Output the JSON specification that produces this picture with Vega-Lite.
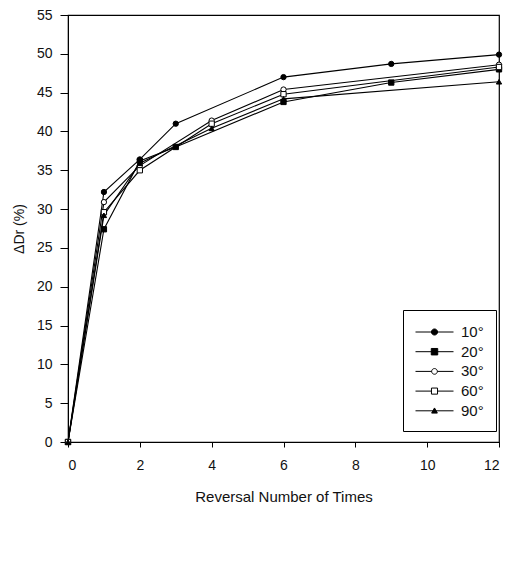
{
  "$schema": "https://vega.github.io/schema/vega-lite/v6.json",
  "width": 431,
  "height": 427,
  "autosize": {"type": "none"},
  "padding": {"left": 68, "top": 15, "right": 15, "bottom": 131},
  "background": "white",
  "config": {
    "view": {"stroke": "black", "strokeWidth": 1.2},
    "font": "Liberation Sans",
    "axis": {
      "domainColor": "black",
      "tickColor": "black",
      "labelColor": "#111",
      "titleColor": "#111",
      "labelFont": "Liberation Sans",
      "titleFont": "Liberation Sans",
      "labelFontSize": 14,
      "titleFontSize": 14,
      "titleFontWeight": "normal",
      "grid": false
    }
  },
  "data": {
    "values": [
      {"series": "10°", "x": 0, "y": 0},
      {"series": "10°", "x": 1, "y": 32.2},
      {"series": "10°", "x": 2, "y": 36.4},
      {"series": "10°", "x": 3, "y": 41.0},
      {"series": "10°", "x": 6, "y": 47.0},
      {"series": "10°", "x": 9, "y": 48.7},
      {"series": "10°", "x": 12, "y": 49.9},
      {"series": "20°", "x": 0, "y": 0},
      {"series": "20°", "x": 1, "y": 27.4},
      {"series": "20°", "x": 2, "y": 36.2},
      {"series": "20°", "x": 3, "y": 38.0},
      {"series": "20°", "x": 6, "y": 43.8},
      {"series": "20°", "x": 9, "y": 46.3},
      {"series": "20°", "x": 12, "y": 48.0},
      {"series": "30°", "x": 0, "y": 0},
      {"series": "30°", "x": 1, "y": 30.9},
      {"series": "30°", "x": 2, "y": 35.6},
      {"series": "30°", "x": 4, "y": 41.4},
      {"series": "30°", "x": 6, "y": 45.4},
      {"series": "30°", "x": 12, "y": 48.6},
      {"series": "60°", "x": 0, "y": 0},
      {"series": "60°", "x": 1, "y": 29.6},
      {"series": "60°", "x": 2, "y": 35.0},
      {"series": "60°", "x": 4, "y": 41.0},
      {"series": "60°", "x": 6, "y": 44.8},
      {"series": "60°", "x": 12, "y": 48.3},
      {"series": "90°", "x": 0, "y": 0},
      {"series": "90°", "x": 1, "y": 29.2},
      {"series": "90°", "x": 2, "y": 35.9},
      {"series": "90°", "x": 4, "y": 40.4},
      {"series": "90°", "x": 6, "y": 44.2},
      {"series": "90°", "x": 12, "y": 46.4}
    ]
  },
  "encoding": {
    "x": {
      "field": "x", "type": "quantitative",
      "scale": {"domain": [0, 12], "nice": false, "zero": false},
      "axis": {"values": [0, 2, 4, 6, 8, 10, 12], "format": "d", "tickSize": 5, "labelPadding": 11, "title": "Reversal Number of Times", "titleFontSize": 15, "titlePadding": 17}
    },
    "y": {
      "field": "y", "type": "quantitative",
      "scale": {"domain": [0, 55], "nice": false},
      "axis": {"values": [0, 5, 10, 15, 20, 25, 30, 35, 40, 45, 50, 55], "tickSize": 8, "labelPadding": 8, "title": "ΔDr (%)", "titlePadding": 10}
    }
  },
  "layer": [
    {
      "mark": {"type": "line", "color": "black", "strokeWidth": 1.1},
      "encoding": {"detail": {"field": "series", "type": "nominal"}}
    },
    {
      "mark": {"type": "point", "size": 28, "stroke": "black", "strokeWidth": 1, "opacity": 1, "filled": false},
      "encoding": {
        "shape": {"field": "series", "type": "nominal", "scale": {"domain": ["10°", "20°", "30°", "60°", "90°"], "range": ["circle", "square", "circle", "square", "triangle-up"]}, "legend": null},
        "fill": {"field": "series", "type": "nominal", "scale": {"domain": ["10°", "20°", "30°", "60°", "90°"], "range": ["black", "black", "white", "white", "black"]}, "legend": null}
      }
    },
    {
      "transform": [{"filter": "datum.x < 0"}],
      "mark": {"type": "point", "size": 361, "opacity": 1, "strokeWidth": 1},
      "encoding": {
        "shape": {
          "field": "series", "type": "nominal",
          "scale": {"domain": ["10°", "20°", "30°", "60°", "90°"], "range": [
            "M-1,0H3M0.68,0A0.32,0.32,0,1,0,1.32,0A0.32,0.32,0,1,0,0.68,0Z",
            "M-1,0H3M0.66,-0.34H1.34V0.34H0.66Z",
            "M-1,0H0.7M1.3,0H3M0.7,0A0.3,0.3,0,1,0,1.3,0A0.3,0.3,0,1,0,0.7,0Z",
            "M-1,0H0.68M1.32,0H3M0.68,-0.32H1.32V0.32H0.68Z",
            "M-1,0H3M1,-0.3L1.3,0.24H0.7Z"
          ]},
          "legend": {
            "title": null, "orient": "none", "legendX": 335, "legendY": 295, "padding": 12,
            "strokeColor": "black", "fillColor": "white",
            "symbolSize": 361, "symbolStrokeColor": "black", "symbolStrokeWidth": 1, "symbolOpacity": 1,
            "labelFontSize": 15, "labelFont": "Liberation Sans", "labelColor": "#111", "labelOffset": 26, "rowPadding": 1.7
          }
        },
        "fill": {
          "field": "series", "type": "nominal",
          "scale": {"domain": ["10°", "20°", "30°", "60°", "90°"], "range": ["black", "black", "white", "white", "black"]}
        },
        "stroke": {
          "field": "series", "type": "nominal",
          "scale": {"domain": ["10°", "20°", "30°", "60°", "90°"], "range": ["black", "black", "black", "black", "black"]}
        }
      }
    }
  ],
  "resolve": {"scale": {"shape": "independent", "fill": "independent", "stroke": "independent"}, "legend": {"shape": "independent", "fill": "independent", "stroke": "independent"}}
}
